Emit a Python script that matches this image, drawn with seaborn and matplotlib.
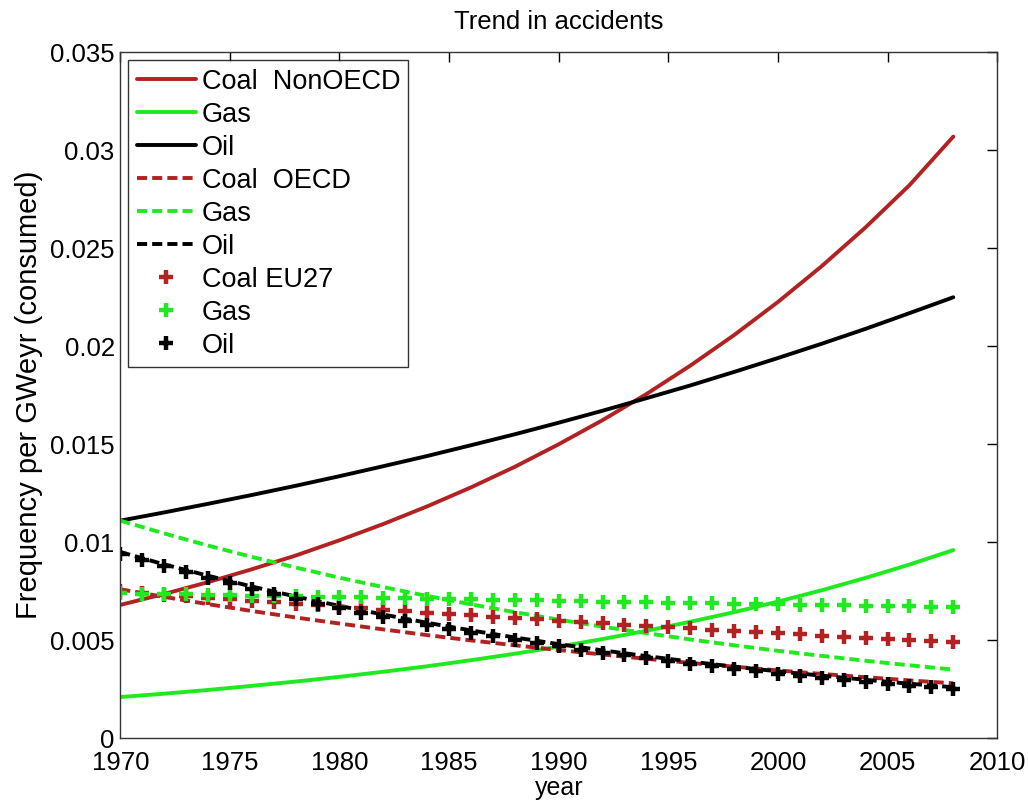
import numpy as np
import pandas as pd
import matplotlib
matplotlib.use("Agg")
import matplotlib.pyplot as plt
import seaborn as sns

# Line series, read every 2 years (1970-2008)
years_line = list(range(1970, 2009, 2))
coal_nonoecd = [0.00680, 0.00736, 0.00796, 0.00862, 0.00932, 0.01010, 0.01093, 0.01183, 0.01280, 0.01385,
                0.01500, 0.01623, 0.01756, 0.01901, 0.02057, 0.02226, 0.02409, 0.02607, 0.02822, 0.03070]
gas_nonoecd = [0.00210, 0.00227, 0.00246, 0.00267, 0.00289, 0.00313, 0.00339, 0.00367, 0.00398, 0.00431,
               0.00467, 0.00506, 0.00548, 0.00594, 0.00643, 0.00697, 0.00755, 0.00818, 0.00886, 0.00960]
oil_nonoecd = [0.01110, 0.01152, 0.01196, 0.01241, 0.01288, 0.01337, 0.01388, 0.01440, 0.01495, 0.01551,
               0.01610, 0.01671, 0.01735, 0.01800, 0.01869, 0.01940, 0.02013, 0.02089, 0.02169, 0.02250]
coal_oecd = [0.00760, 0.00721, 0.00684, 0.00649, 0.00616, 0.00585, 0.00555, 0.00526, 0.00499, 0.00474,
             0.00450, 0.00427, 0.00405, 0.00384, 0.00365, 0.00346, 0.00328, 0.00311, 0.00295, 0.00280]
gas_oecd = [0.01110, 0.01045, 0.00983, 0.00925, 0.00871, 0.00819, 0.00771, 0.00726, 0.00683, 0.00643,
            0.00605, 0.00569, 0.00536, 0.00504, 0.00474, 0.00446, 0.00420, 0.00395, 0.00372, 0.00350]
oil_oecd = [0.00950, 0.00887, 0.00829, 0.00774, 0.00723, 0.00675, 0.00631, 0.00589, 0.00550, 0.00514,
            0.00480, 0.00448, 0.00419, 0.00391, 0.00365, 0.00341, 0.00319, 0.00298, 0.00278, 0.00260]

# EU27 markers, one per year (1970-2008)
years_eu = list(range(1970, 2009))
coal_eu27 = [0.00750, 0.00742, 0.00733, 0.00725, 0.00717, 0.00709, 0.00701, 0.00693, 0.00686, 0.00678,
             0.00670, 0.00663, 0.00656, 0.00648, 0.00641, 0.00634, 0.00627, 0.00620, 0.00613, 0.00606,
             0.00599, 0.00593, 0.00586, 0.00580, 0.00573, 0.00567, 0.00560, 0.00554, 0.00548, 0.00542,
             0.00536, 0.00530, 0.00524, 0.00518, 0.00512, 0.00507, 0.00501, 0.00495, 0.00490]
gas_eu27 = [0.00740, 0.00738, 0.00736, 0.00734, 0.00732, 0.00730, 0.00728, 0.00726, 0.00724, 0.00722,
            0.00720, 0.00718, 0.00716, 0.00714, 0.00712, 0.00710, 0.00708, 0.00706, 0.00704, 0.00703,
            0.00701, 0.00699, 0.00697, 0.00695, 0.00693, 0.00692, 0.00690, 0.00688, 0.00686, 0.00685,
            0.00683, 0.00681, 0.00679, 0.00678, 0.00676, 0.00674, 0.00673, 0.00671, 0.00670]
oil_eu27 = [0.00940, 0.00908, 0.00877, 0.00847, 0.00818, 0.00790, 0.00763, 0.00736, 0.00711, 0.00687,
            0.00663, 0.00641, 0.00619, 0.00597, 0.00577, 0.00557, 0.00538, 0.00520, 0.00502, 0.00485,
            0.00468, 0.00452, 0.00437, 0.00422, 0.00407, 0.00393, 0.00380, 0.00367, 0.00354, 0.00342,
            0.00330, 0.00319, 0.00308, 0.00297, 0.00287, 0.00277, 0.00268, 0.00259, 0.00250]

RED = "#b22222"
GREEN = "#1fea1f"
BLACK = "#000000"

sns.set_style("white")
plt.rcParams["font.family"] = ["Liberation Sans", "DejaVu Sans"]
plt.rcParams["text.color"] = "black"
plt.rcParams["axes.labelcolor"] = "black"
plt.rcParams["xtick.color"] = "black"
plt.rcParams["ytick.color"] = "black"

fig = plt.figure(figsize=(10.28, 8.05), dpi=100)
ax = fig.add_axes([0.117, 0.083, 0.853, 0.852])

dash = (0, (2.6, 1.3))
lw = 2.8

sns.lineplot(x=years_line, y=coal_nonoecd, color=RED, lw=lw, label="Coal  NonOECD", ax=ax)
sns.lineplot(x=years_line, y=gas_nonoecd, color=GREEN, lw=lw, label="Gas", ax=ax)
sns.lineplot(x=years_line, y=oil_nonoecd, color=BLACK, lw=lw, label="Oil", ax=ax)
sns.lineplot(x=years_line, y=coal_oecd, color=RED, lw=lw, linestyle=dash, label="Coal  OECD", ax=ax)
sns.lineplot(x=years_line, y=gas_oecd, color=GREEN, lw=lw, linestyle=dash, label="Gas", ax=ax)
sns.lineplot(x=years_line, y=oil_oecd, color=BLACK, lw=lw, linestyle=dash, label="Oil", ax=ax)

for vals, col, lab in [(coal_eu27, RED, "Coal EU27"), (gas_eu27, GREEN, "Gas"), (oil_eu27, BLACK, "Oil")]:
    sns.lineplot(x=years_eu, y=vals, color=col, linestyle="", marker="+",
                 markersize=10, markeredgewidth=3.2, markeredgecolor=col, label=lab, ax=ax)

ax.set_xlim(1970, 2010)
ax.set_ylim(0, 0.035)
ax.set_xticks(range(1970, 2011, 5))
ax.set_yticks(np.arange(0, 0.0351, 0.005))
ax.set_yticklabels(["0", "0.005", "0.01", "0.015", "0.02", "0.025", "0.03", "0.035"])
ax.tick_params(direction="in", top=True, right=True, length=7, width=1, labelsize=18.5,
               colors="black")
ax.tick_params(axis="x", pad=9)
ax.tick_params(axis="y", pad=4)
for s in ax.spines.values():
    s.set_linewidth(1)
    s.set_color("#333333")

ax.set_title("Trend in accidents", fontsize=18.5, pad=17, color="black")
ax.set_xlabel("year", fontsize=18, labelpad=1, color="black")
ax.set_ylabel("Frequency per GWeyr (consumed)", fontsize=21, labelpad=5, color="black")

leg = ax.legend(loc="upper left", fontsize=19.5, frameon=True, fancybox=False,
                edgecolor="black", handlelength=2.2, handletextpad=0.2,
                borderaxespad=0.3, labelspacing=0.26, borderpad=0.3)
leg.get_frame().set_linewidth(1)
for t in leg.get_texts():
    t.set_color("black")

fig.savefig("out.png", dpi=100)
